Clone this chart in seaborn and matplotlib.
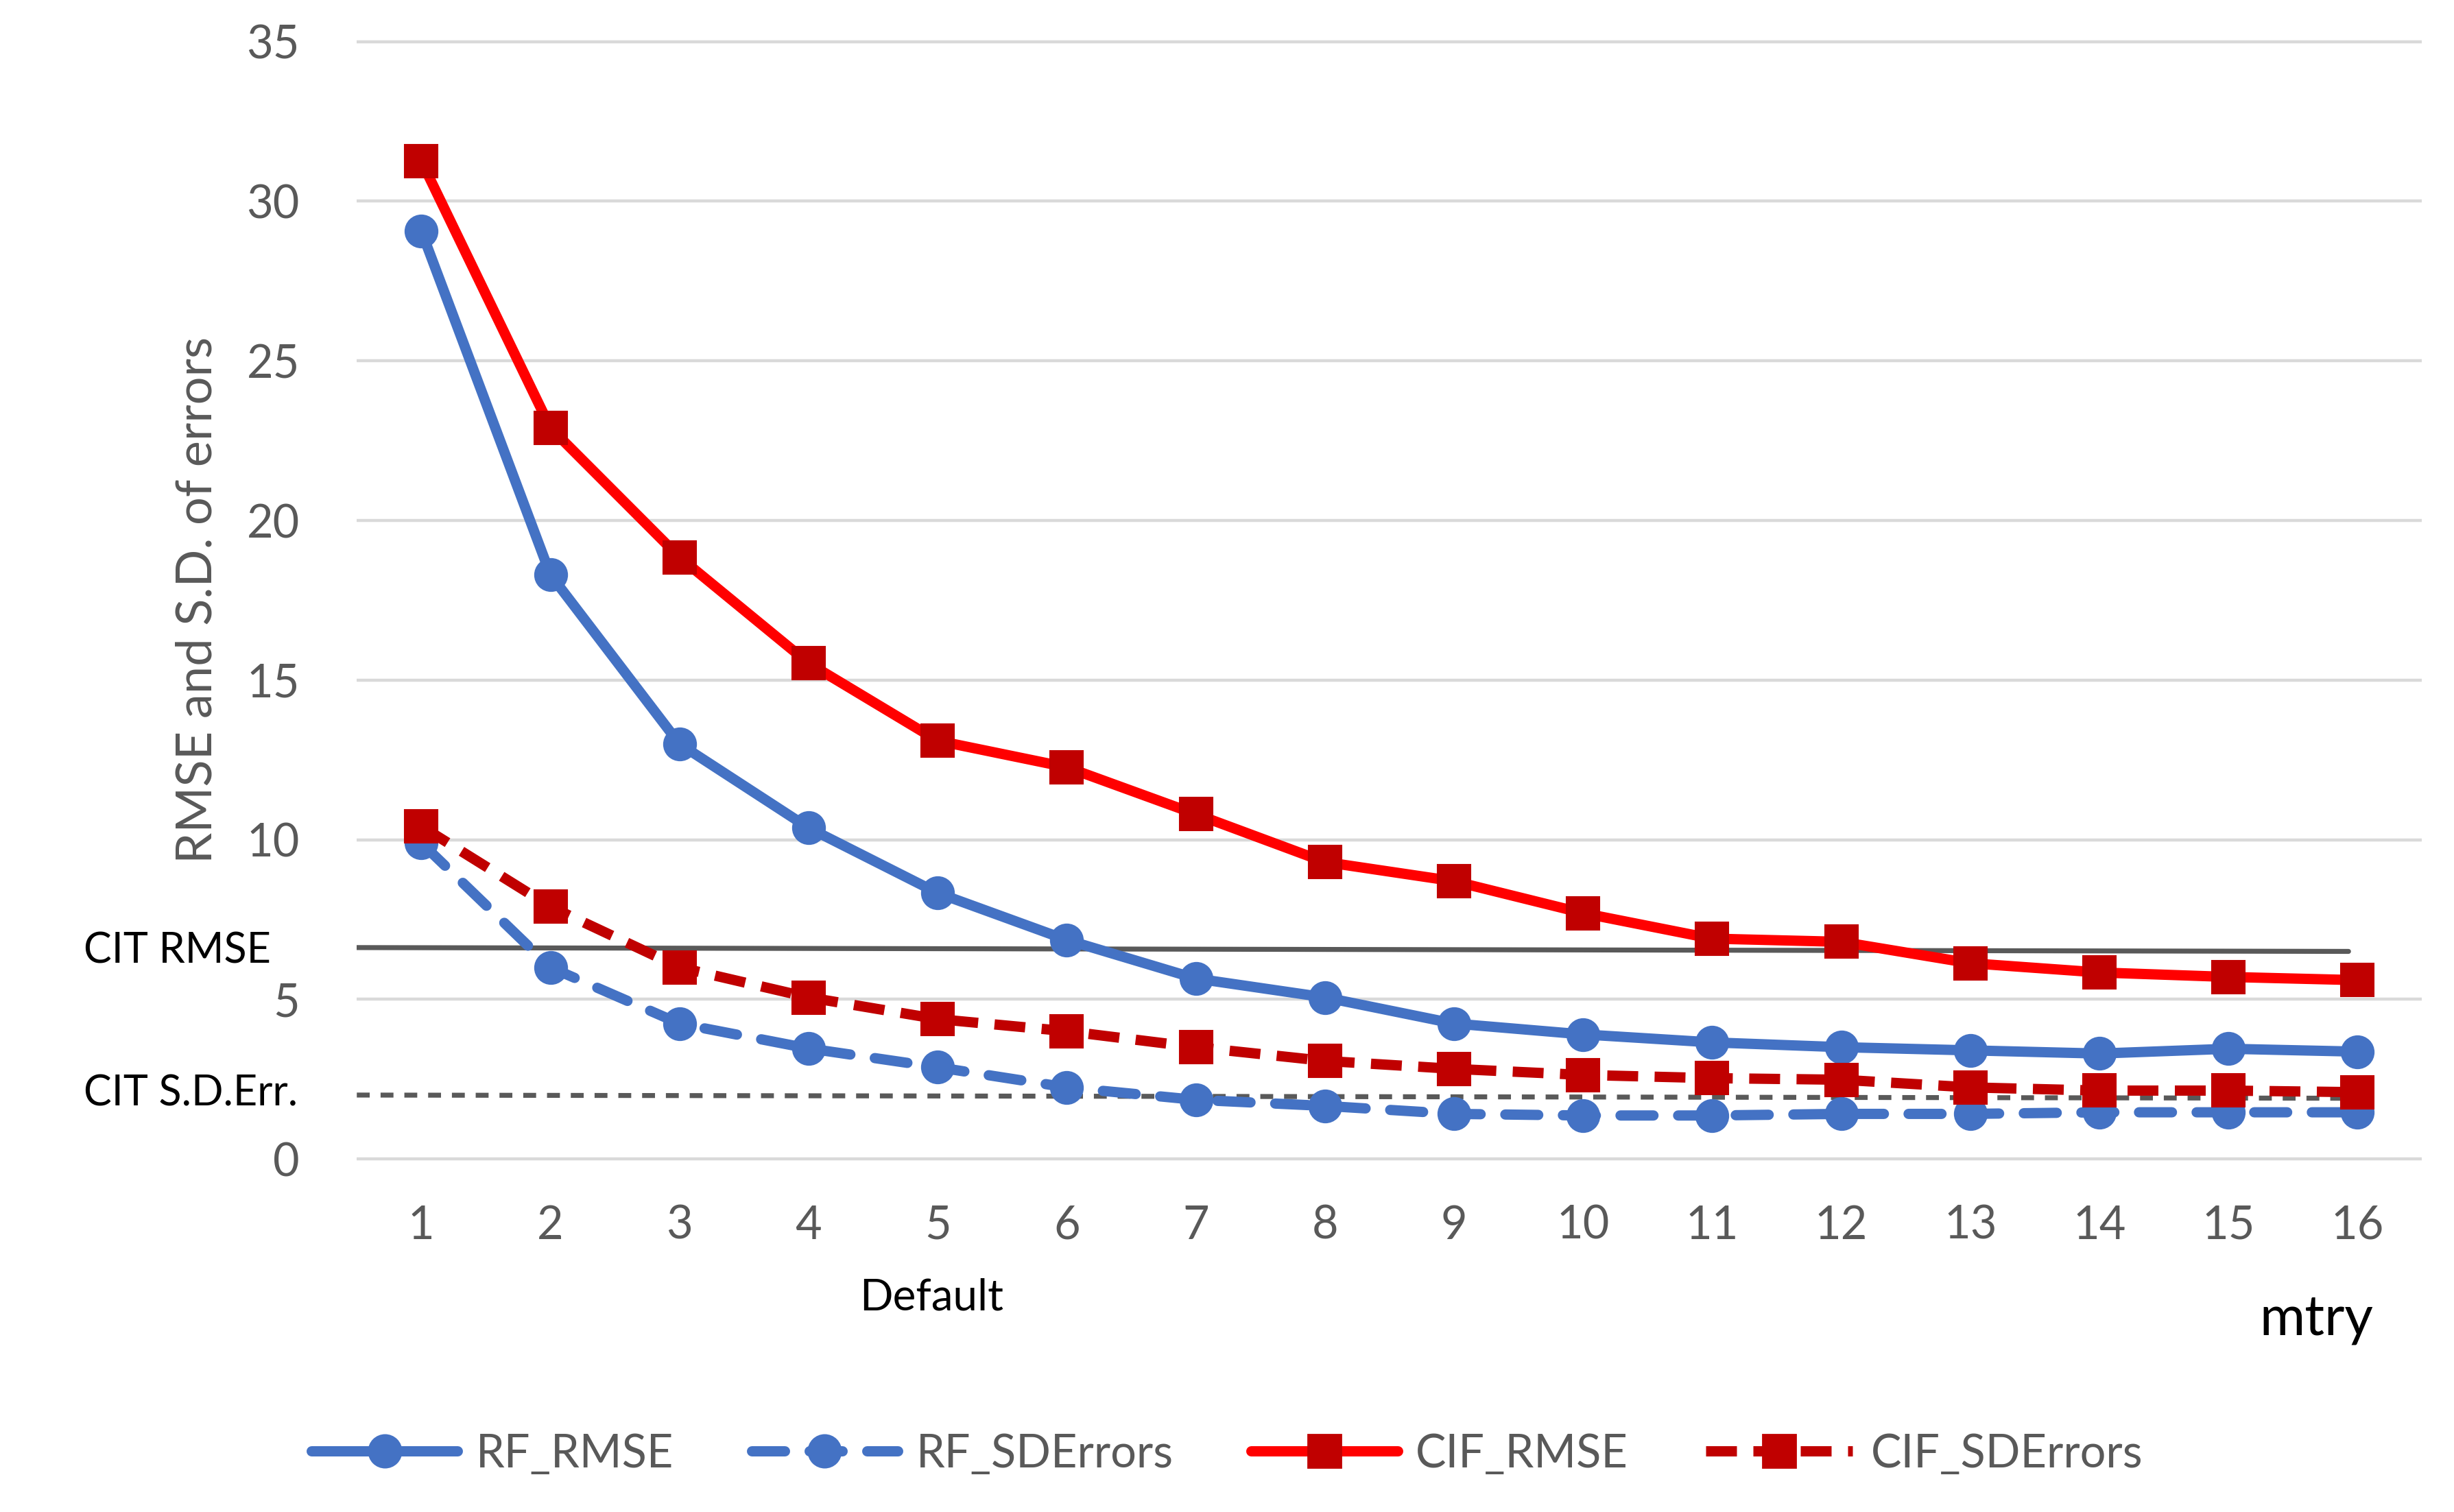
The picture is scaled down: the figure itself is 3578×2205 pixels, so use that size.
import matplotlib
matplotlib.use("Agg")
import matplotlib.pyplot as plt
import matplotlib.transforms as mtransforms
from matplotlib.lines import Line2D
import seaborn as sns
import pandas as pd

# ---- data ----
mtry = list(range(1, 17))
rf_rmse = [29.07, 18.3, 13.0, 10.37, 8.33, 6.86, 5.65, 5.06, 4.24, 3.9, 3.65, 3.5, 3.4, 3.3, 3.45, 3.36]
rf_sd = [9.9, 6.0, 4.24, 3.46, 2.87, 2.24, 1.85, 1.66, 1.41, 1.36, 1.36, 1.41, 1.41, 1.46, 1.46, 1.46]
cif_rmse = [31.26, 22.9, 18.85, 15.53, 13.1, 12.27, 10.8, 9.3, 8.7, 7.7, 6.9, 6.8, 6.13, 5.84, 5.7, 5.6]
cif_sd = [10.42, 7.9, 6.0, 5.06, 4.38, 4.0, 3.5, 3.07, 2.82, 2.63, 2.53, 2.48, 2.24, 2.14, 2.14, 2.09]
cit_rmse = [6.62, 6.5]   # reference line (start, end)
cit_sd = [2.0, 1.9]      # reference line (start, end)
cit_x = [0.5, 15.93]
y_ticks = [0, 5, 10, 15, 20, 25, 30, 35]
series_names = ["RF_RMSE", "RF_SDErrors", "CIF_RMSE", "CIF_SDErrors"]

sns.set_theme(style="white")
plt.rcParams["font.family"] = ["Lato", "DejaVu Sans"]

GRAY = "#595959"
BLUE = "#4472C4"
RED = "#FF0000"
DRED = "#C00000"

fig = plt.figure(figsize=(3578 / 200, 2205 / 200), dpi=200)
ax = fig.add_axes([0.1454, 0.231, 0.8416, 0.744])

df = pd.DataFrame({"mtry": mtry, "RF_RMSE": rf_rmse, "RF_SDErrors": rf_sd,
                   "CIF_RMSE": cif_rmse, "CIF_SDErrors": cif_sd})

# reference lines (drawn first, below series)
cit_df = pd.DataFrame({"x": cit_x, "rmse": cit_rmse, "sd": cit_sd})
sns.lineplot(data=cit_df, x="x", y="rmse", ax=ax, color=GRAY, linewidth=2.6, zorder=2)
sns.lineplot(data=cit_df, x="x", y="sd", ax=ax, color=GRAY, linewidth=2.6,
             linestyle=(0, (2.6, 2.2)), zorder=2)

lw = 5.4
styles = {
    "RF_RMSE": dict(color=BLUE, marker="o", markersize=17, markerfacecolor=BLUE,
                    markeredgecolor=BLUE, linestyle="-"),
    "RF_SDErrors": dict(color=BLUE, marker="o", markersize=17, markerfacecolor=BLUE,
                        markeredgecolor=BLUE, linestyle=(0, (3.2, 2.4)),
                        dash_capstyle="round"),
    "CIF_RMSE": dict(color=RED, marker="s", markersize=17, markerfacecolor=DRED,
                     markeredgecolor=DRED, linestyle="-"),
    "CIF_SDErrors": dict(color=DRED, marker="s", markersize=17, markerfacecolor=DRED,
                         markeredgecolor=DRED, linestyle=(0, (3.0, 1.6))),
}
handles = []
for name in series_names:
    st = styles[name]
    sns.lineplot(data=df, x="mtry", y=name, ax=ax, linewidth=lw, zorder=3, **st)
    handles.append(Line2D([], [], linewidth=lw, **st))

ax.set_xlim(0.5, 16.5)
ax.set_ylim(-0.12, 35.12)
ax.set_xticks(mtry)
ax.set_xticklabels([str(m) for m in mtry])
ax.set_yticks(y_ticks)
ax.set_yticklabels([str(t) for t in y_ticks])
ax.tick_params(axis="both", length=0, labelsize=24, labelcolor=GRAY)
ax.tick_params(axis="y", pad=30)
ax.tick_params(axis="x", pad=22)
ax.yaxis.grid(True, color="#D9D9D9", linewidth=1.6)
ax.xaxis.grid(False)
ax.set_axisbelow(True)
for s in ax.spines.values():
    s.set_visible(False)
ax.set_xlabel("")
ax.set_ylabel("RMSE and S.D. of errors", fontsize=26, color=GRAY, labelpad=14)

# annotations
trans = mtransforms.blended_transform_factory(fig.transFigure, ax.transData)
ax.text(0.034, 6.5, "CIT RMSE", transform=trans, fontsize=22, color="black",
        ha="left", va="center")
ax.text(0.034, 2.05, "CIT S.D.Err.", transform=trans, fontsize=22, color="black",
        ha="left", va="center")
fig.text(595 / 1568, 1 - 829 / 966, "Default", fontsize=23, color="black",
         ha="center", va="center")
fig.text(1480 / 1568, 1 - 843 / 966, "mtry", fontsize=29, color="black",
         ha="center", va="center")

fig.legend(handles, series_names, loc="center", bbox_to_anchor=(0.5, 1 - 929 / 966),
           ncol=4, frameon=False, fontsize=24, labelcolor=GRAY, handlelength=3.2,
           columnspacing=1.7, handletextpad=0.4)

fig.savefig("out.png", dpi=200, facecolor="white")
